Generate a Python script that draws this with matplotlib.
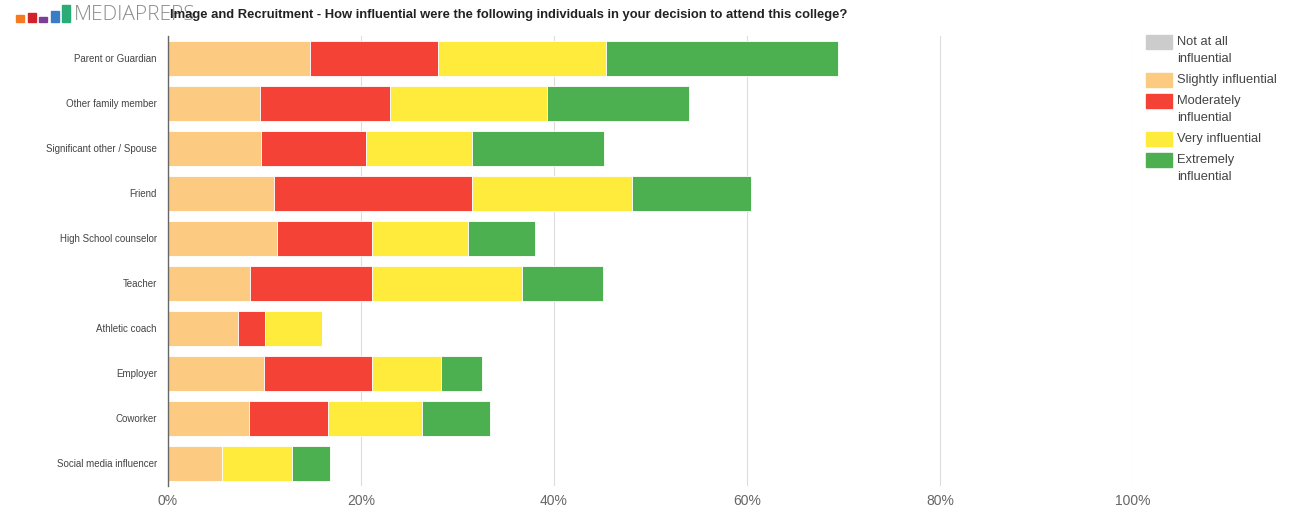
import numpy as np
import matplotlib.pyplot as plt
from matplotlib.patches import Rectangle

plt.rcParams['font.family'] = ['Liberation Sans', 'DejaVu Sans']

people = ["Parent or Guardian", "Other family member", "Significant other / Spouse",
          "Friend", "High School counselor", "Teacher", "Athletic coach",
          "Employer", "Coworker", "Social media influencer"]

levels = ["Not at all\ninfluential", "Slightly influential", "Moderately\ninfluential",
          "Very influential", "Extremely\ninfluential"]

not_at_all = [0, 0, 0, 0, 0, 0, 0, 0, 0, 0]
slightly = [14.7, 9.5, 9.6, 11.0, 11.3, 8.5, 7.3, 9.9, 8.4, 5.6]
moderately = [13.3, 13.5, 10.9, 20.5, 9.8, 12.6, 2.8, 11.2, 8.2, 0.0]
very = [17.4, 16.3, 11.0, 16.6, 10.0, 15.6, 5.9, 7.2, 9.7, 7.2]
extremely = [24.0, 14.7, 13.7, 12.3, 6.9, 8.4, 0.0, 4.2, 7.1, 4.0]

colors = ["#cccccc", "#fdca82", "#f44336", "#ffeb3b", "#4caf50"]

W, H = 1289, 512
fig = plt.figure(figsize=(W / 100, H / 100), dpi=100)
ax = fig.add_axes([168 / W, 26 / H, 965 / W, 450 / H])

y = np.arange(len(people))
left = np.zeros(len(people))
for vals, name, c in zip([not_at_all, slightly, moderately, very, extremely], levels, colors):
    vals = np.array(vals)
    ax.barh(y, vals, left=left, height=0.76, color=c, label=name,
            edgecolor="white", linewidth=0.6, zorder=3)
    left += vals

ax.set_xlim(0, 100)
ax.set_ylim(len(people) - 0.5, -0.5)
ax.set_yticks(y)
ax.set_yticklabels(people, fontsize=7, color="#444444")
ax.set_xticks([0, 20, 40, 60, 80, 100])
ax.set_xticklabels(["0%", "20%", "40%", "60%", "80%", "100%"], fontsize=10, color="#666666")
ax.tick_params(axis="both", length=0)
ax.tick_params(axis="y", pad=8)
ax.tick_params(axis="x", pad=6)
ax.grid(axis="x", color="#dddddd", linewidth=0.8, zorder=0)
for s in ["top", "right", "bottom"]:
    ax.spines[s].set_visible(False)
ax.spines["left"].set_color("#666666")
ax.spines["left"].set_linewidth(1.0)
ax.spines["left"].set_zorder(4)

# legend drawn by hand so the swatch sits beside the first line of each label
ly = 42
for name, c in zip(levels, colors):
    fig.patches.append(Rectangle((1146 / W, 1 - (ly + 7) / H), 26 / W, 14 / H,
                                 transform=fig.transFigure, color=c))
    for i, line in enumerate(name.split("\n")):
        fig.text(1177 / W, 1 - (ly + 17 * i) / H, line, fontsize=9.3, color="#444444",
                 va="center", ha="left")
    ly += 17 * (name.count("\n") + 1) + 4

# logo in the top-left corner
logo = [(16, 15, "#f47b20"), (28, 13, "#d2232a"), (39, 17, "#7b3f98"),
        (51, 11, "#3b7dc4"), (62, 5, "#2bab76")]
for x0, top, c in logo:
    fig.patches.append(Rectangle((x0 / W, 1 - 22 / H), 8 / W, (22 - top) / H,
                                 transform=fig.transFigure, color=c))
fig.text(74 / W, 1 - 15 / H, "MEDIAPREPS", fontsize=15, color="#8c8c8c",
         va="center", ha="left", family=["Open Sans", "DejaVu Sans"], fontweight="light")

fig.text(170 / W, 1 - 15 / H,
         "Image and Recruitment - How influential were the following individuals in your decision to attend this college?",
         fontsize=9.4, fontweight="bold", color="#222222", va="center", ha="left")

fig.savefig("out.png", dpi=100)
